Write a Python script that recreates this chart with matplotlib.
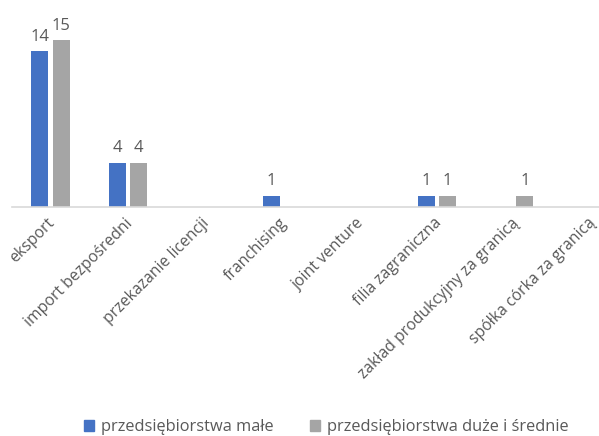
import numpy as np
import matplotlib.pyplot as plt
from matplotlib.patches import Patch
from matplotlib.transforms import ScaledTranslation

categories = ['eksport', 'import bezpośredni', 'przekazanie licencji', 'franchising',
              'joint venture', 'filia zagraniczna', 'zakład produkcyjny za granicą',
              'spółka córka za granicą']
small = [14, 4, 0, 1, 0, 1, 0, 0]
large = [15, 4, 0, 0, 0, 1, 1, 0]
series_names = ['przedsiębiorstwa małe', 'przedsiębiorstwa duże i średnie']

plt.rcParams['font.family'] = ['Open Sans', 'DejaVu Sans']
blue, gray, txt = '#4472C4', '#A5A5A5', '#595959'

fig = plt.figure(figsize=(5.99, 4.36), dpi=100)
ax = fig.add_axes([12 / 599, 229 / 436, 618 / 599, 200 / 436])

x = np.arange(len(categories))
w = 0.22
off = 0.14
for vals, color, dx in [(small, blue, -off), (large, gray, off)]:
    bars = ax.bar(x + dx, vals, width=w, color=color)
    for b, v in zip(bars, vals):
        if v:
            ax.text(b.get_x() + b.get_width() / 2, v + 0.6, str(v), ha='center',
                    va='bottom', fontsize=12, color=txt)

ax.set_xlim(-0.5, len(categories) - 0.5)
ax.set_ylim(0, 18)
ax.set_yticks([])
for s in ['top', 'right', 'left']:
    ax.spines[s].set_visible(False)
ax.spines['bottom'].set_color('#D9D9D9')
ax.spines['bottom'].set_linewidth(1.2)
ax.set_xticks(x)
ax.set_xticklabels(categories, rotation=45, ha='right', va='center',
                   rotation_mode='anchor', fontsize=11.3, color=txt)
ax.tick_params(axis='x', length=0, pad=10)
shift = ScaledTranslation(2 / 100, 0, fig.dpi_scale_trans)
for lab in ax.get_xticklabels():
    lab.set_transform(lab.get_transform() + shift)

handles = [Patch(color=blue), Patch(color=gray)]
fig.legend(handles, series_names, loc='center', bbox_to_anchor=(0.545, 0.02),
           ncol=2, frameon=False, fontsize=11.8, labelcolor=txt,
           handlelength=0.6, handleheight=0.6, columnspacing=2.2, handletextpad=0.45)

fig.savefig('out.png', dpi=100)
